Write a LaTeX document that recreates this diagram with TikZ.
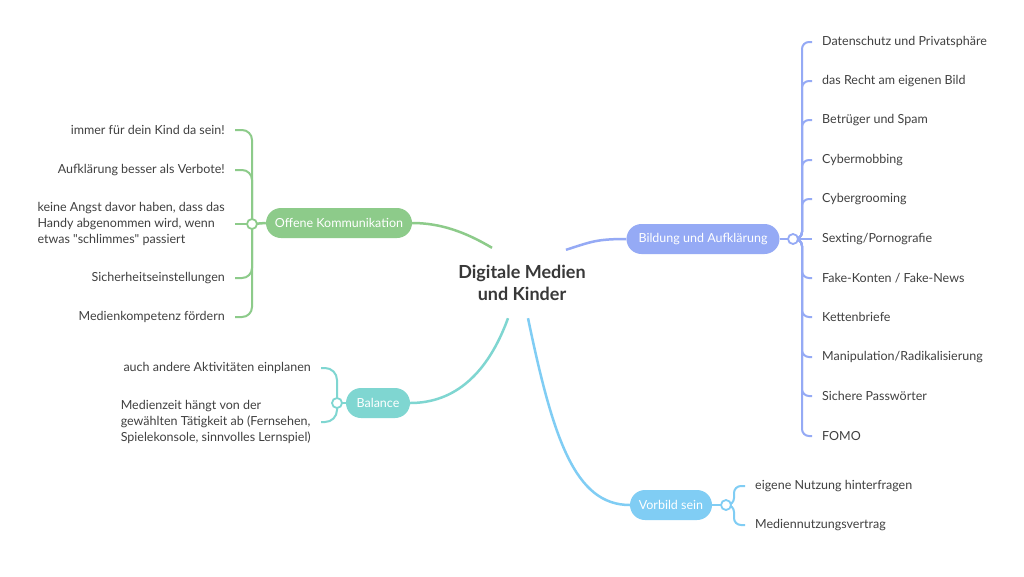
\documentclass[tikz,border=0pt]{standalone}
\usepackage{fontspec}
\setmainfont{Lato}
\usetikzlibrary{backgrounds,calc}
\definecolor{cgreen}{HTML}{8DCB8A}
\definecolor{cblue}{HTML}{95AAF5}
\definecolor{cteal}{HTML}{7FD6D1}
\definecolor{clight}{HTML}{80CDF4}
\definecolor{txt}{HTML}{404040}
\definecolor{ctxt}{HTML}{383838}
\begin{document}
\begin{tikzpicture}[x=1pt,y=-1pt,
  leaf/.style={font=\fontsize{12.5}{16}\selectfont, text=txt, inner xsep=10pt, inner ysep=2pt},
  leafL/.style={leaf, anchor=east},
  leafR/.style={leaf, anchor=west},
  pill/.style={rounded corners=15pt, minimum height=30pt, text=white, font=\fontsize{12.5}{15}\selectfont, inner sep=0pt},
  junc/.style={circle, draw, fill=white, line width=1.8pt, minimum size=10pt, inner sep=0pt},
  mainline/.style={line width=2.5pt},
  twig/.style={line width=2pt, rounded corners=10pt},
  twigt/.style={line width=2pt, rounded corners=12pt},
  twigs/.style={line width=2pt, rounded corners=7pt}]
\useasboundingbox (0,0) rectangle (1024,576);

% centre
\node[font=\fontsize{18}{22}\selectfont\bfseries, align=center, text=ctxt,
      minimum width=150pt, minimum height=70pt] (c) at (522,283) {Digitale Medien\\und Kinder};

% green branch
\node[pill, fill=cgreen, minimum width=146pt] (og) at (339,223) {Offene Kommunikation};
\node[junc, draw=cgreen] (jg) at (252,224) {};
\node[leafL] (g1) at (235,130) {immer für dein Kind da sein!};
\node[leafL] (g2) at (235,170) {Aufklärung besser als Verbote!};
\node[leafL, align=left] (g3) at (235,224) {keine Angst davor haben, dass das\\Handy abgenommen wird, wenn\\etwas \textquotedbl schlimmes\textquotedbl{} passiert};
\node[leafL] (g4) at (235,278) {Sicherheitseinstellungen};
\node[leafL] (g5) at (235,317) {Medienkompetenz fördern};

% teal branch
\node[pill, fill=cteal, minimum width=64pt] (tb) at (378,403) {Balance};
\node[junc, draw=cteal] (jt) at (337,403) {};
\node[leafL] (t1) at (321,368) {auch andere Aktivitäten einplanen};
\node[leafL, align=left] (t2) at (321,422) {Medienzeit hängt von der\\gewählten Tätigkeit ab (Fernsehen,\\Spielekonsole, sinnvolles Lernspiel)};

% blue branch
\node[pill, fill=cblue, minimum width=153pt] (bb) at (703,239) {Bildung und Aufklärung};
\node[junc, draw=cblue] (jb) at (793,239) {};
\node[leafR] (b1) at (812,42) {Datenschutz und Privatsphäre};
\node[leafR] (b2) at (812,81) {das Recht am eigenen Bild};
\node[leafR] (b3) at (812,120) {Betrüger und Spam};
\node[leafR] (b4) at (812,160) {Cybermobbing};
\node[leafR] (b5) at (812,199) {Cybergrooming};
\node[leafR] (b6) at (812,239) {Sexting/Pornografie};
\node[leafR] (b7) at (812,278) {Fake-Konten / Fake-News};
\node[leafR] (b8) at (812,317) {Kettenbriefe};
\node[leafR] (b9) at (812,357) {Manipulation/Radikalisierung};
\node[leafR] (b10) at (812,396) {Sichere Passwörter};
\node[leafR] (b11) at (812,436) {FOMO};

% light blue branch
\node[pill, fill=clight, minimum width=82pt] (vb) at (671,505) {Vorbild sein};
\node[junc, draw=clight] (jv) at (726,505) {};
\node[leafR] (v1) at (745,486) {eigene Nutzung hinterfragen};
\node[leafR] (v2) at (745,525) {Mediennutzungsvertrag};

\begin{scope}[on background layer]
  \fill[white] (0,0) rectangle (1024,576);
  % main connectors
  \draw[mainline, cgreen] ([xshift=-30pt]c.north) .. controls +(-27,-16) and +(28,0) .. (og.east);
  \draw[mainline, cblue] ([xshift=44pt,yshift=-2pt]c.north) .. controls +(25,-8) and +(-30,0) .. (bb.west);
  \draw[mainline, cteal] ([xshift=-14pt]c.south) .. controls +(-20,55) and +(45,0) .. (tb.east);
  \draw[mainline, clight] ([xshift=6pt]c.south) .. controls +(25,120) and +(-55,0) .. (vb.west);
  % pill to junction
  \draw[mainline, cgreen] (og.west) -- (jg.center);
  \draw[mainline, cteal] (tb.west) -- (jt.center);
  \draw[mainline, cblue] (bb.east) -- (jb.center);
  \draw[mainline, clight] (vb.east) -- (jv.center);
  % green twigs
  \foreach \n in {g1,g2,g4,g5} \draw[twig, cgreen] (jg.center) |- (\n.east);
  \draw[twig, cgreen] (jg.center) -- (g3.east);
  % teal twigs
  \foreach \n in {t1,t2} \draw[twigt, cteal] (jt.center) |- (\n.east);
  % blue twigs
  \foreach \n in {b1,b2,b3,b4,b5,b7,b8,b9,b10,b11} \draw[twigs, cblue] (jb.center) -- ++(9,0) |- (\n.west);
  \draw[twigs, cblue] (jb.center) -- (b6.west);
  % light blue twigs
  \foreach \n in {v1,v2} \draw[twigs, clight] (jv.center) -- ++(8,0) |- (\n.west);
\end{scope}
\end{tikzpicture}
\end{document}
